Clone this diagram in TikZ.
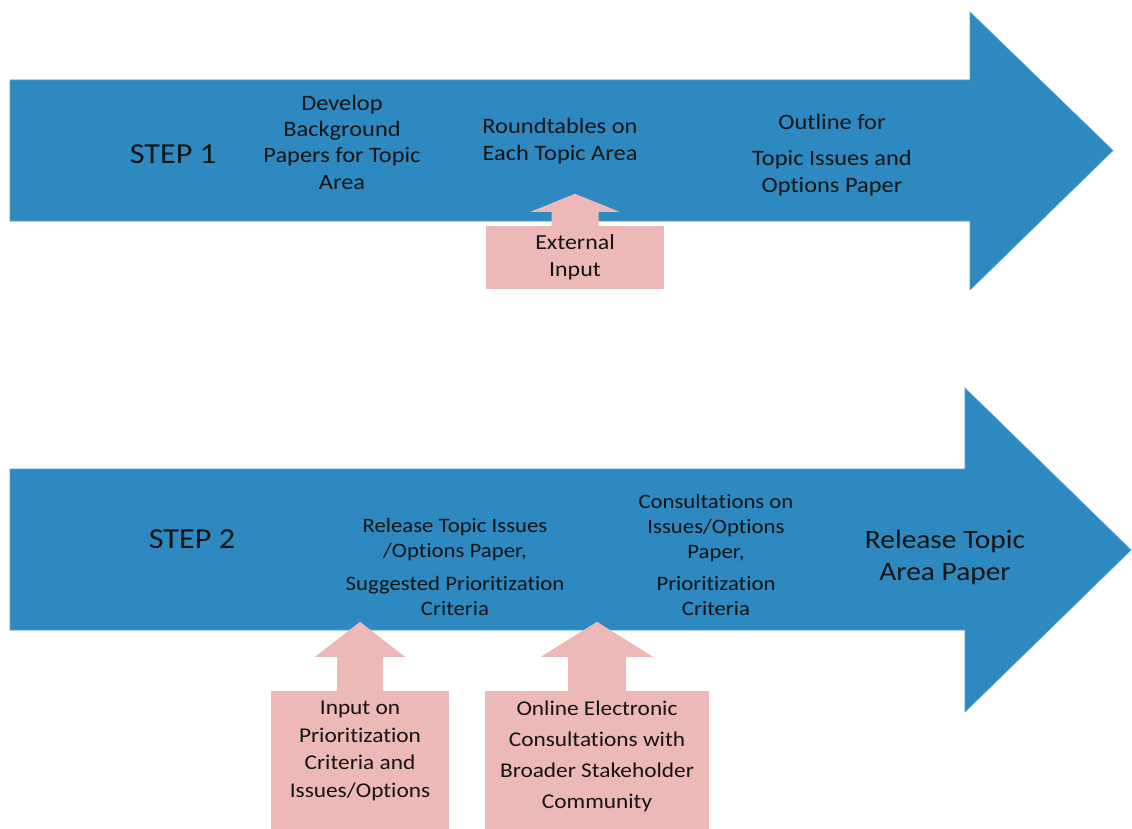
\documentclass[tikz,border=0pt]{standalone}
\usepackage{fontspec}
\setmainfont{Carlito}[FakeStretch=1.11,Ligatures=NoCommon]
\definecolor{stepblue}{RGB}{46,137,192}
\definecolor{inpink}{RGB}{236,184,184}
\definecolor{txt}{RGB}{20,20,20}
\begin{document}
\begin{tikzpicture}[x=1pt,y=-1pt,
  bigarrow/.style={fill=stepblue,draw=stepblue!80!white,line width=0.6pt},
  pinkbox/.style={fill=inpink,draw=none,rectangle,inner sep=0pt},
  pinkarrow/.style={fill=inpink,draw=none},
  lbl/.style={text=txt,align=center,inner sep=0pt,font=\fontsize{22}{26.3}\selectfont},
  lbltwo/.style={text=txt,align=center,inner sep=0pt,font=\fontsize{20.5}{25}\selectfont},
  steplbl/.style={text=txt,align=center,inner sep=0pt,font=\fontsize{29}{34}\selectfont},
  biglbl/.style={text=txt,align=center,inner sep=0pt,font=\fontsize{26.5}{32}\selectfont},
  boxlbl/.style={text=txt,align=center,inner sep=0pt,font=\fontsize{21}{27.5}\selectfont}]
\useasboundingbox (0,0) rectangle (1132,829);
\fill[white] (0,0) rectangle (1132,829);
% Step 1 arrow
\path[bigarrow] (10,80) -- (970,80) -- (970,12) -- (1113,150.5) -- (970,290) -- (970,221) -- (10,221) -- cycle;
% Step 2 arrow
\path[bigarrow] (10,469) -- (965,469) -- (965,388) -- (1131,550) -- (965,712) -- (965,630) -- (10,630) -- cycle;

% Step 1 texts
\node[steplbl] (s1) at (173,154) {STEP 1};
\node[lbl] (dev) at (342,142) {Develop\\ Background\\ Papers for Topic\\ Area};
\node[lbl] (round) at (560,141) {Roundtables on\\ Each Topic Area};
\node[lbl,font=\fontsize{22}{27}\selectfont] (outline) at (832,155) {Outline for\\[9pt] Topic Issues and\\ Options Paper};

% External input box
\node[pinkbox,minimum width=178pt,minimum height=63pt] (ext) at (575,257.5) {};
\path[pinkarrow] ([xshift=-23.5pt]ext.north) -- ++(0,-14) -- ++(-21,0) -- ++(44.5,-18) -- ++(44.5,18) -- ++(-21,0) -- ++(0,14) -- cycle;
\node[boxlbl,font=\fontsize{21.5}{27}\selectfont] (extt) at (575,257.5) {External\\ Input};

% Step 2 texts
\node[steplbl] (s2) at (192,539) {STEP 2};
\node[lbltwo] (rel) at (455,567) {Release Topic Issues\\ /Options Paper,\\[8pt] Suggested Prioritization\\ Criteria};
\node[lbltwo] (cons) at (716,555) {Consultations on\\ Issues/Options\\ Paper,\\[7pt] Prioritization\\ Criteria};
\node[biglbl] (final) at (945,557) {Release Topic\\ Area Paper};

% Input on prioritization box
\node[pinkbox,minimum width=178pt,minimum height=138pt] (inp) at (360,760) {};
\path[pinkarrow] ([xshift=-23pt]inp.north) -- ++(0,-34) -- ++(-22,0) -- ++(45,-35) -- ++(45,35) -- ++(-22,0) -- ++(0,34) -- cycle;
\node[boxlbl] (inpt) at (360,751) {Input on\\ Prioritization\\ Criteria and\\ Issues/Options};

% Online consultations box
\node[pinkbox,minimum width=224pt,minimum height=138pt] (onl) at (597,760) {};
\path[pinkarrow] ([xshift=-29pt]onl.north) -- ++(0,-34) -- ++(-27,0) -- ++(56,-35) -- ++(56,35) -- ++(-27,0) -- ++(0,34) -- cycle;
\node[boxlbl,font=\fontsize{21}{31}\selectfont] (onlt) at (597,756) {Online Electronic\\ Consultations with\\ Broader Stakeholder\\ Community};
\end{tikzpicture}
\end{document}
